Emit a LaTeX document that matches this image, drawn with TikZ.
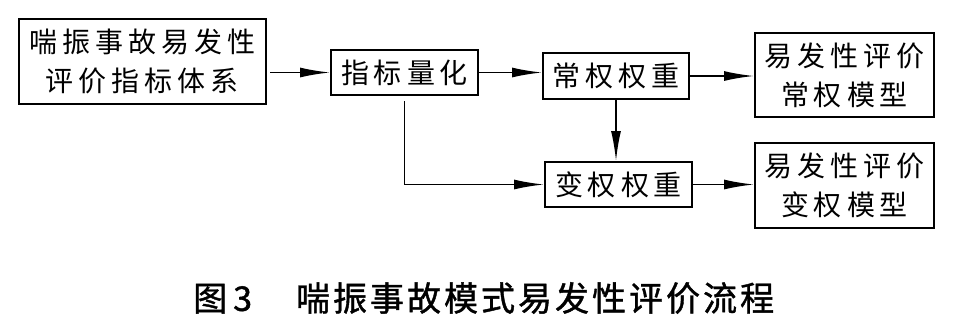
\documentclass[tikz,border=0pt]{standalone}
\usepackage{fontspec}
\newfontfamily\cjk{Noto Sans CJK SC}
\newfontfamily\cjkcap[FakeBold=1.2]{Noto Sans CJK SC}
\usetikzlibrary{arrows.meta}
\newdimen\lsgap \lsgap=5pt
\def\ls#1{\lsx#1\relax}
\def\lsx#1{\ifx\relax#1\unskip\else#1\hskip\lsgap\relax\expandafter\lsx\fi}
\begin{document}
\begin{tikzpicture}[x=1pt,y=-1pt,
  box/.style={draw, line width=2pt, inner sep=0pt, align=center,
    font=\cjk\fontsize{28}{39}\selectfont},
  arr/.style={line width=1.8pt, -{Latex[length=30pt,width=10pt]}}]
\useasboundingbox (0,0) rectangle (955,330);
\fill[white] (0,0) rectangle (955,330);
\node[box, minimum width=247pt, minimum height=85pt] (b1) at (142.5,61.5) {\ls{喘振事故易发性}\\\ls{评价指标体系}};
\node[box, minimum width=147pt, minimum height=45pt] (b2) at (404.5,72.5) {\ls{指标量化}};
\node[box, minimum width=146pt, minimum height=46pt] (b3) at (616,76) {\ls{常权权重}};
\node[box, minimum width=179pt, minimum height=84pt] (b4) at (844.5,75) {\ls{易发性评价}\\\ls{常权模型}};
\node[box, minimum width=147pt, minimum height=45pt] (b5) at (618.5,184.5) {\ls{变权权重}};
\node[box, minimum width=179pt, minimum height=85pt] (b6) at (844.5,185.5) {\ls{易发性评价}\\\ls{变权模型}};
\draw[arr, shorten <=3pt] (b1.east |- b2.west) -- (b2.west);
\draw[arr] (b2.east) -- (b3.west |- b2.east);
\draw[arr] (b3.east) -- (b4.west |- b3.east);
\draw[arr] (b3.south) -- (b3.south |- b5.north);
\draw[arr, shorten <=5pt] (b2.south) |- (b5.west);
\draw[arr] (b5.east) -- (b6.west |- b5.east);
\node[anchor=west, inner sep=0pt, font=\cjkcap\fontsize{34}{34}\selectfont] (cap) at (193,298)
  {图\kern6pt 3\hspace{44pt}{\lsgap=3pt\ls{喘振事故模式易发性评价流程}}};
\end{tikzpicture}
\end{document}
